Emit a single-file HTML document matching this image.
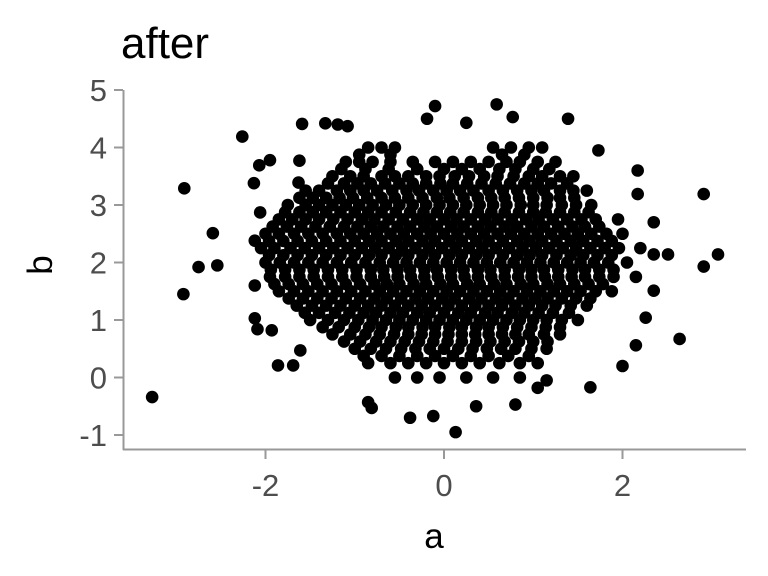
<!DOCTYPE html>
<html><head><meta charset="utf-8"><style>
body{margin:0;background:#fff;}
svg{display:block;font-family:"Liberation Sans","DejaVu Sans",sans-serif;}
</style></head><body>
<svg id="chart" width="768" height="576" viewBox="0 0 768 576">
<text x="121" y="58" font-size="44" fill="#000">after</text>
<g id="axes"></g>
<g id="points"></g>
<text x="434" y="548" font-size="35" text-anchor="middle" fill="#000">a</text>
<text transform="translate(52,265) rotate(-90)" font-size="35" text-anchor="middle" fill="#000">b</text>
</svg>
<script>
const xTicks=[-2,0,2];
const yTicks=[-1,0,1,2,3,4,5];
const outlierA=[-3.27,-2.92,-2.91,-2.75,-2.59,-2.54,-2.26,-1.59,-1.33,-1.19,-1.08,-0.1,-0.19,0.25,0.59,0.77,1.39,1.73,2.91,3.07,2.91,2.64,2.51,2.35,2.35,2.17,2.17,2.0,1.64,0.13,-0.38,-0.12,-0.81,0.36,-0.85,0.8,1.05,1.15,-2.12,-2.09,-1.93,-1.86,-1.69,-1.61,2.26,2.15,2.35,-1.95,-2.07,-2.13,-1.62,-1.63,-2.12,-2.12,-2.06];
const outlierB=[-0.34,1.45,3.29,1.92,2.51,1.95,4.19,4.41,4.42,4.4,4.37,4.72,4.5,4.43,4.75,4.53,4.5,3.95,3.19,2.14,1.93,0.67,2.14,2.14,2.7,3.6,3.19,0.2,-0.17,-0.95,-0.7,-0.67,-0.53,-0.5,-0.43,-0.47,-0.18,-0.05,1.03,0.84,0.82,0.21,0.21,0.47,1.04,0.56,1.51,3.78,3.69,3.38,3.77,3.39,2.38,1.6,2.87];
const coreRowB=[4.0,3.75,3.5,3.25,3.0,2.75,2.5,2.25,2.0,1.75,1.5,1.25,1.0,0.75,0.5,0.25,0.0,
3.875,3.625,3.375,3.125,2.875,2.625,2.375,2.125,1.875,1.625,1.375,1.125,0.875,0.625,0.375];
const coreRowA=[
[-0.85,-0.7,-0.55,0.55,0.75,0.95,1.1],
[-1.1,-0.95,-0.8,-0.6,-0.35,-0.1,0.1,0.3,0.5,0.7,0.85,1.05,1.25],
[-1.25,-1.05,-0.9,-0.7,-0.55,-0.4,-0.2,-0.05,0.12,0.28,0.45,0.6,0.78,0.95,1.1,1.3,1.45],
[-1.55,-1.4,-1.2,-1.05,-0.9,-0.75,-0.58,-0.42,-0.28,-0.12,0.03,0.18,0.33,0.5,0.66,0.82,0.98,1.12,1.3,1.45,1.6],
[-1.75,-1.55,-1.4,-1.25,-1.1,-0.95,-0.8,-0.65,-0.5,-0.35,-0.2,-0.05,0.1,0.25,0.4,0.55,0.7,0.86,1.0,1.15,1.32,1.48,1.65],
[-1.85,-1.7,-1.55,-1.4,-1.24,-1.08,-0.92,-0.78,-0.62,-0.46,-0.3,-0.16,0.0,0.14,0.3,0.46,0.6,0.76,0.92,1.06,1.22,1.38,1.54,1.7,1.95],
[-2.0,-1.85,-1.68,-1.52,-1.36,-1.2,-1.05,-0.9,-0.75,-0.6,-0.45,-0.3,-0.15,0.0,0.15,0.3,0.45,0.6,0.75,0.9,1.05,1.2,1.35,1.5,1.65,1.82,2.0],
[-2.05,-1.9,-1.72,-1.56,-1.4,-1.24,-1.08,-0.92,-0.77,-0.62,-0.47,-0.32,-0.17,-0.02,0.13,0.28,0.43,0.58,0.73,0.88,1.03,1.18,1.33,1.48,1.64,1.8,1.96,2.2],
[-2.0,-1.84,-1.68,-1.52,-1.36,-1.2,-1.04,-0.88,-0.72,-0.57,-0.42,-0.27,-0.12,0.03,0.18,0.33,0.48,0.63,0.78,0.93,1.08,1.23,1.38,1.53,1.68,1.84,2.05],
[-1.95,-1.78,-1.62,-1.46,-1.3,-1.14,-0.98,-0.82,-0.67,-0.52,-0.37,-0.22,-0.07,0.08,0.23,0.38,0.53,0.68,0.83,0.98,1.13,1.28,1.43,1.58,1.74,1.9,2.15],
[-1.85,-1.68,-1.52,-1.36,-1.2,-1.04,-0.88,-0.72,-0.57,-0.42,-0.27,-0.12,0.03,0.18,0.33,0.48,0.63,0.78,0.93,1.08,1.23,1.38,1.53,1.7,1.88],
[-1.65,-1.48,-1.32,-1.16,-1.0,-0.85,-0.7,-0.55,-0.4,-0.25,-0.1,0.05,0.2,0.35,0.5,0.65,0.8,0.95,1.1,1.25,1.42,1.6],
[-1.5,-1.3,-1.12,-0.96,-0.8,-0.65,-0.5,-0.35,-0.2,-0.05,0.1,0.25,0.4,0.55,0.7,0.85,1.0,1.15,1.32,1.5],
[-1.25,-1.05,-0.88,-0.72,-0.56,-0.4,-0.25,-0.1,0.05,0.2,0.35,0.5,0.65,0.8,0.95,1.12,1.3],
[-1.0,-0.82,-0.65,-0.48,-0.32,-0.16,0.0,0.16,0.32,0.48,0.64,0.8,0.98,1.15],
[-0.85,-0.6,-0.4,-0.2,0.0,0.2,0.4,0.62,0.85,1.05],
[-0.55,-0.3,-0.05,0.25,0.55,0.85],
[-0.95,-0.6,0.65,0.9],
[-1.15,-0.88,-0.62,-0.3,0.0,0.2,0.4,0.62,0.8,1.0,1.18],
[-1.3,-1.12,-0.97,-0.82,-0.66,-0.5,-0.35,-0.2,-0.04,0.1,0.26,0.42,0.58,0.74,0.9,1.05,1.2,1.38],
[-1.62,-1.47,-1.32,-1.17,-1.02,-0.86,-0.7,-0.55,-0.4,-0.24,-0.08,0.06,0.22,0.38,0.53,0.68,0.84,1.0,1.16,1.3,1.46],
[-1.78,-1.62,-1.47,-1.32,-1.16,-1.0,-0.85,-0.7,-0.54,-0.38,-0.23,-0.08,0.07,0.22,0.38,0.53,0.68,0.84,1.0,1.14,1.3,1.46,1.62],
[-1.92,-1.76,-1.6,-1.44,-1.28,-1.12,-0.97,-0.82,-0.68,-0.52,-0.38,-0.22,-0.08,0.08,0.22,0.38,0.52,0.68,0.82,0.98,1.12,1.28,1.44,1.58,1.74],
[-1.96,-1.8,-1.64,-1.48,-1.32,-1.16,-1.0,-0.84,-0.7,-0.54,-0.4,-0.24,-0.1,0.06,0.2,0.36,0.5,0.66,0.82,0.96,1.1,1.26,1.42,1.56,1.72,1.88],
[-1.96,-1.8,-1.64,-1.48,-1.32,-1.16,-1.0,-0.84,-0.7,-0.54,-0.4,-0.24,-0.1,0.06,0.2,0.36,0.5,0.66,0.82,0.96,1.1,1.26,1.42,1.56,1.72,1.88],
[-1.94,-1.78,-1.62,-1.46,-1.3,-1.14,-0.98,-0.82,-0.68,-0.52,-0.38,-0.22,-0.08,0.08,0.22,0.38,0.52,0.68,0.84,0.98,1.12,1.28,1.44,1.58,1.74,1.9],
[-1.9,-1.74,-1.58,-1.42,-1.26,-1.1,-0.94,-0.78,-0.64,-0.5,-0.34,-0.2,-0.04,0.1,0.26,0.4,0.56,0.7,0.86,1.0,1.16,1.3,1.46,1.62,1.78],
[-1.74,-1.58,-1.42,-1.26,-1.1,-0.94,-0.78,-0.64,-0.48,-0.32,-0.18,-0.02,0.12,0.28,0.42,0.58,0.72,0.88,1.02,1.16,1.32,1.48,1.64],
[-1.56,-1.4,-1.22,-1.06,-0.9,-0.76,-0.6,-0.46,-0.3,-0.16,0.0,0.16,0.3,0.46,0.6,0.76,0.9,1.06,1.22,1.4],
[-1.36,-1.18,-1.0,-0.84,-0.7,-0.54,-0.4,-0.24,-0.1,0.06,0.2,0.36,0.5,0.66,0.82,0.98,1.14,1.3],
[-1.12,-0.94,-0.76,-0.6,-0.44,-0.28,-0.12,0.04,0.2,0.36,0.52,0.68,0.84,1.0,1.16],
[-0.9,-0.7,-0.5,-0.3,-0.1,0.1,0.3,0.5,0.72,0.95]
];
const NS="http://www.w3.org/2000/svg";
const X=v=>444+v*89.25;
const Y=v=>377.5-v*57.5;
const ax=document.getElementById('axes');
function mk(tag,attrs,parent){const e=document.createElementNS(NS,tag);for(const k in attrs)e.setAttribute(k,attrs[k]);parent.appendChild(e);return e;}
const yl=mk('line',{x1:123.5,y1:90,x2:123.5,y2:450,stroke:'#999','stroke-width':2},ax);


const xl=mk('line',{x1:123,y1:449.5,x2:746,y2:449.5,stroke:'#999','stroke-width':2},ax);


yTicks.forEach(t=>{
 const l=mk('line',{x1:114,x2:123,y1:Y(t),y2:Y(t),stroke:'#999','stroke-width':2},ax);
 
 
 const tx=mk('text',{x:107,y:Y(t)+11,'font-size':31,'text-anchor':'end',fill:'#4d4d4d'},ax);
 tx.textContent=t;
 
 
});
xTicks.forEach(t=>{
 const l=mk('line',{x1:X(t),x2:X(t),y1:450,y2:459,stroke:'#999','stroke-width':2},ax);
 
 
 const tx=mk('text',{x:X(t),y:496,'font-size':31,'text-anchor':'middle',fill:'#4d4d4d'},ax);
 tx.textContent=t;
 
 
});
const pg=document.getElementById('points');
function dot(a,b){
 const c=mk('circle',{cx:X(a),cy:Y(b),r:6.3,fill:'#000'},pg);
 
 
}
outlierA.forEach((a,i)=>dot(a,outlierB[i]));
coreRowA.forEach((row,i)=>row.forEach(a=>dot(a,coreRowB[i])));
</script>
</body></html>
